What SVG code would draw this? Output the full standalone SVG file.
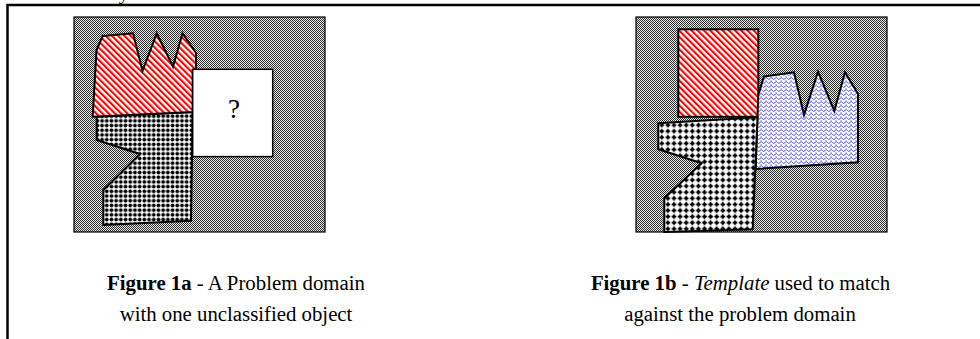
<svg xmlns="http://www.w3.org/2000/svg" width="980" height="339" viewBox="0 0 980 339">
  <style>
    .frame { fill: none; stroke: #000; stroke-width: 2.5; }
    .field { fill: url(#grey); stroke: #000; stroke-width: 1.2; }
    .shape { stroke: #000; stroke-width: 2; stroke-linejoin: miter; }
    .red { fill: url(#redHatch); }
    .dots { fill: url(#dotGrid); }
    .dots2 { fill: url(#plusGrid); }
    .blue { fill: url(#blueWave); }
    .cap { font-family: "Liberation Serif", "Times New Roman", serif; font-size: 20.8px; fill: #000; text-anchor: middle; }
    .mark { font-family: "Liberation Serif", "Times New Roman", serif; font-size: 27px; fill: #000; text-anchor: middle; }
  </style>
  <defs>
    <!-- dithered grey background: pixel checkerboard -->
    <pattern id="grey" patternUnits="userSpaceOnUse" width="2" height="2">
      <rect width="2" height="2" fill="#ececec"/>
      <rect x="0" y="0" width="1" height="1" fill="#2c2c2c"/>
      <rect x="1" y="1" width="1" height="1" fill="#2c2c2c"/>
    </pattern>
    <!-- red diagonal hatching -->
    <pattern id="redHatch" patternUnits="userSpaceOnUse" width="4.4" height="4.4" patternTransform="rotate(-45)">
      <rect width="4.4" height="4.4" fill="#fff"/>
      <rect width="2.1" height="4.4" fill="#f00"/>
    </pattern>
    <!-- black dot grid -->
    <pattern id="dotGrid" patternUnits="userSpaceOnUse" x="1" y="1" width="4.7" height="4.7">
      <rect width="4.7" height="4.7" fill="#fff"/>
      <circle cx="2.35" cy="2.35" r="1.9" fill="#000"/>
    </pattern>
    <!-- larger plus-shaped dot grid -->
    <pattern id="plusGrid" patternUnits="userSpaceOnUse" width="6.1" height="6.1">
      <rect width="6.1" height="6.1" fill="#fff"/>
      <rect x="0.6" y="2.3" width="4.8" height="1.6" fill="#000"/>
      <rect x="2.2" y="0.7" width="1.6" height="4.8" fill="#000"/>
      <circle cx="3" cy="3.1" r="1.6" fill="#000"/>
    </pattern>
    <!-- blue squiggle texture -->
    <pattern id="blueWave" patternUnits="userSpaceOnUse" width="5" height="4">
      <rect width="5" height="4" fill="#fff"/>
      <path d="M0,2.5 q1.25,-2 2.5,0 t2.5,0" fill="none" stroke="#4848e8" stroke-width="1"/>
      <rect x="0.5" y="0" width="1" height="1" fill="#9090f0"/>
    </pattern>
  </defs>

  <!-- page frame and descender of the line above -->
  <g id="page">
    <polyline class="frame" points="7.5,339 7.5,5 980,5"/>
    <text x="124" y="-1.5" class="cap">y</text>
  </g>

  <!-- Figure 1a: problem domain -->
  <g id="fig1a">
    <rect id="field-a" class="field" x="74" y="17" width="251" height="215"/>
    <path id="dots-a" class="shape dots" d="M96.7,116.7 L192.7,112 L191,220.7 L103.3,225 L103.3,190 L140,154 L96.7,140 Z"/>
    <path id="red-a" class="shape red" d="M102.7,36 L133,33.3 L142.5,71 L156.7,33.3 L173,66.7 L182.5,33.3 L196,53 L196,70 L192.7,70 L192.7,112 L92.7,116.7 L96.5,50 Z"/>
    <g id="unknown">
      <rect x="192.7" y="69.3" width="80" height="87.3" fill="#fff" stroke="#000" stroke-width="1.5"/>
      <text x="234" y="118" class="mark">?</text>
    </g>
  </g>

  <!-- Figure 1b: template -->
  <g id="fig1b">
    <rect id="field-b" class="field" x="636" y="17" width="251" height="215"/>
    <rect id="red-b" class="shape red" x="678.3" y="29.3" width="80" height="87.5"/>
    <path id="blue-b" class="shape blue" d="M764,76.5 L794,72.3 L804,115 L818,71.7 L834.3,111 L845,72.3 L858,94 L858,162.3 L755.7,169 L757.5,117 L758.3,95 Z"/>
    <path id="dots-b" class="shape dots2" d="M658.3,123.3 L757.5,117.3 L752.7,229.3 L664.3,232 L664.3,198.3 L701.7,163.3 L658.3,149.3 Z"/>
  </g>

  <!-- captions -->
  <g id="caption-a">
    <text class="cap" x="236" y="290"><tspan font-weight="bold">Figure 1a</tspan> - A Problem domain</text>
    <text class="cap" x="236" y="320.5">with one unclassified object</text>
  </g>
  <g id="caption-b">
    <text class="cap" x="740.5" y="290"><tspan font-weight="bold">Figure 1b</tspan> - <tspan font-style="italic">Template</tspan> used to match</text>
    <text class="cap" x="740" y="320.5">against the problem domain</text>
  </g>
</svg>
